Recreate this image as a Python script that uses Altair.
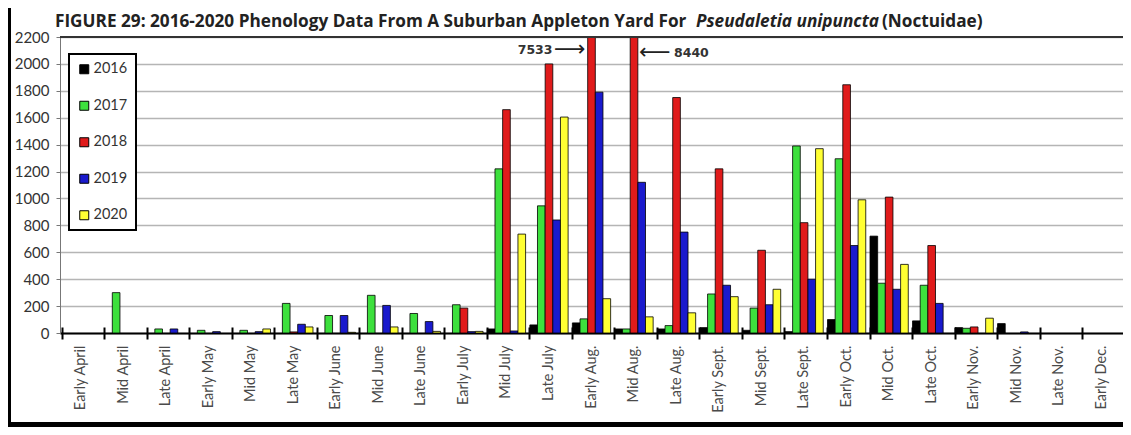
import altair as alt
import pandas as pd

categories = ["Early April", "Mid April", "Late April", "Early May", "Mid May",
              "Late May", "Early June", "Mid June", "Late June", "Early July",
              "Mid July", "Late July", "Early Aug.", "Mid Aug.", "Late Aug.",
              "Early Sept.", "Mid Sept.", "Late Sept.", "Early Oct.", "Mid Oct.",
              "Late Oct.", "Early Nov.", "Mid Nov.", "Late Nov.", "Early Dec."]
years = ["2016", "2017", "2018", "2019", "2020"]
colors = ["#000000", "#3de03d", "#e01b1b", "#1a1acd", "#ffff33"]
y_ticks = [0, 200, 400, 600, 800, 1000, 1200, 1400, 1600, 1800, 2000, 2200]

v2016 = [0, 0, 0, 0, 0, 0, 0, 0, 0, 0, 30, 60, 75, 30, 30, 40, 20, 10, 100, 720, 90, 40, 70, 0, 0]
v2017 = [0, 300, 30, 20, 20, 220, 130, 280, 145, 210, 1220, 945, 105, 30, 55, 290, 185, 1390, 1295, 370, 355, 35, 0, 0, 0]
v2018 = [0, 0, 0, 0, 0, 8, 0, 0, 0, 185, 1660, 2000, 7533, 8440, 1750, 1220, 615, 820, 1845, 1010, 650, 45, 0, 0, 0]
v2019 = [0, 0, 30, 10, 10, 65, 130, 205, 85, 10, 15, 840, 1790, 1120, 750, 355, 210, 400, 650, 325, 220, 0, 8, 0, 0]
v2020 = [0, 0, 0, 0, 30, 45, 5, 45, 12, 12, 735, 1605, 255, 120, 150, 270, 325, 1370, 990, 510, 0, 110, 0, 0, 0]

series = {"2016": v2016, "2017": v2017, "2018": v2018, "2019": v2019, "2020": v2020}
rows = []
for y in years:
    for c, v in zip(categories, series[y]):
        rows.append({"period": c, "year": y, "value": v})
df = pd.DataFrame(rows)

# off-scale values written beside the clipped bars
ann_df = pd.DataFrame([
    {"period": "Early Aug.", "year": "2018", "pos": 2103, "label": "7533", "side": "left"},
    {"period": "Mid Aug.", "year": "2018", "pos": 2080, "label": "8440", "side": "right"},
])

FONT = "Lato"
TFONT = "Open Sans"
x_scale = alt.Scale(domain=categories, paddingInner=0.1, paddingOuter=0.05)
y_scale = alt.Scale(domain=[0, 2200], nice=False)


def y_axis():
    return alt.Axis(title=None, values=y_ticks, tickCount=12, format="d", labelOverlap=False,
                    grid=True, gridColor="#b5b5b5", gridWidth=1.3, tickSize=4, tickColor="#777",
                    labelPadding=7, labelFont=FONT, labelFontSize=15, labelColor="#333",
                    domainColor="#777")


x_enc = alt.X("period:N", scale=x_scale, sort=categories,
              axis=alt.Axis(title=None, labelAngle=-90, labelFont=FONT, labelFontSize=14.5,
                            labelColor="#4a4a4a", ticks=False, domain=True, domainColor="black",
                            domainWidth=2, labelPadding=12, grid=False, orient="bottom"))
xo_enc = alt.XOffset("year:N", scale=alt.Scale(domain=years), sort=years)

bars = alt.Chart(df).transform_filter("datum.value > 0").mark_bar(
    stroke="black", strokeWidth=0.8, clip=True
).encode(
    x=x_enc,
    xOffset=xo_enc,
    y=alt.Y("value:Q", scale=y_scale, axis=y_axis()),
    color=alt.Color("year:N", scale=alt.Scale(domain=years, range=colors),
                    legend=alt.Legend(title=None, orient="none", legendX=9, legendY=17,
                                      symbolType="square", symbolSize=81,
                                      symbolStrokeColor="black", symbolStrokeWidth=1,
                                      labelFont=FONT, labelFontSize=14.5, labelColor="#333",
                                      rowPadding=21.5, padding=8, labelOffset=2,
                                      strokeColor="black", fillColor="white")),
)

ticks_layer = alt.Chart(df).mark_point(opacity=0).encode(
    x=alt.X("period:N", scale=x_scale, sort=categories,
            axis=alt.Axis(title=None, labels=False, domain=False, ticks=True, tickSize=12,
                          tickColor="black", tickWidth=2, bandPosition=0, offset=-6,
                          grid=False, orient="bottom")),
)

title_df = pd.DataFrame([{"t": 1}])
# dark frame line along the top of the plot area
top_line = alt.Chart(title_df).mark_rule(color="#333", strokeWidth=2).encode(
    y=alt.value(0), x=alt.value(0), x2=alt.value(1063))

ann_base = alt.Chart(ann_df).encode(
    x=alt.X("period:N", sort=categories, axis=None),
    xOffset=alt.XOffset("year:N", sort=years),
    y=alt.Y("pos:Q", scale=y_scale, axis=y_axis()),
)
left = ann_base.transform_filter("datum.side == 'left'")
right = ann_base.transform_filter("datum.side == 'right'")
num_style = dict(font="DejaVu Sans", fontSize=12.5, fontWeight="bold", color="#333", baseline="middle")
arrow_style = dict(font="DejaVu Sans", fontSize=22, color="#222", baseline="middle")

left_num = left.mark_text(align="right", dx=-39, **num_style).encode(text="label:N")
left_arrow = left.mark_text(align="right", dx=-6, dy=-1, **arrow_style).encode(text=alt.value("\u27f6"))
right_arrow = right.mark_text(align="left", dx=5, dy=-1, **arrow_style).encode(text=alt.value("\u27f5"))
right_num = right.mark_text(align="left", dx=40, **num_style).encode(text="label:N")

TY = -10.5
TS = 17.2
t1 = alt.Chart(title_df).mark_text(font=TFONT, fontSize=TS, fontWeight="bold", color="#222",
                                   align="left", baseline="alphabetic").encode(
    x=alt.value(-5), y=alt.value(TY),
    text=alt.value("FIGURE 29: 2016-2020 Phenology Data From A Suburban Appleton Yard For"))
t2 = alt.Chart(title_df).mark_text(font=TFONT, fontSize=TS, fontWeight="bold", fontStyle="italic",
                                   color="#222", align="left", baseline="alphabetic").encode(
    x=alt.value(636), y=alt.value(TY), text=alt.value("Pseudaletia unipuncta"))
t3 = alt.Chart(title_df).mark_text(font=TFONT, fontSize=TS, fontWeight="bold", color="#222",
                                   align="left", baseline="alphabetic").encode(
    x=alt.value(822), y=alt.value(TY), text=alt.value("(Noctuidae)"))

frame_left = alt.Chart(title_df).mark_rule(color="black", strokeWidth=3).encode(
    x=alt.value(-50.5), y=alt.value(-29), y2=alt.value(390))
frame_bottom = alt.Chart(title_df).mark_rule(color="black", strokeWidth=5).encode(
    x=alt.value(-52), x2=alt.value(1070), y=alt.value(387.5))

chart = alt.layer(
    bars, top_line, ticks_layer, left_num, left_arrow, right_arrow, right_num,
    t1, t2, t3, frame_left, frame_bottom
).resolve_axis(x="independent").properties(
    width=1063, height=296,
    autosize=alt.AutoSizeParams(type="none"),
    padding={"left": 52, "top": 29, "right": 0, "bottom": 94},
).configure_view(stroke=None).configure_legend(strokeWidth=2)

chart.save("out.html", embed_options={"renderer": "svg", "actions": False})
